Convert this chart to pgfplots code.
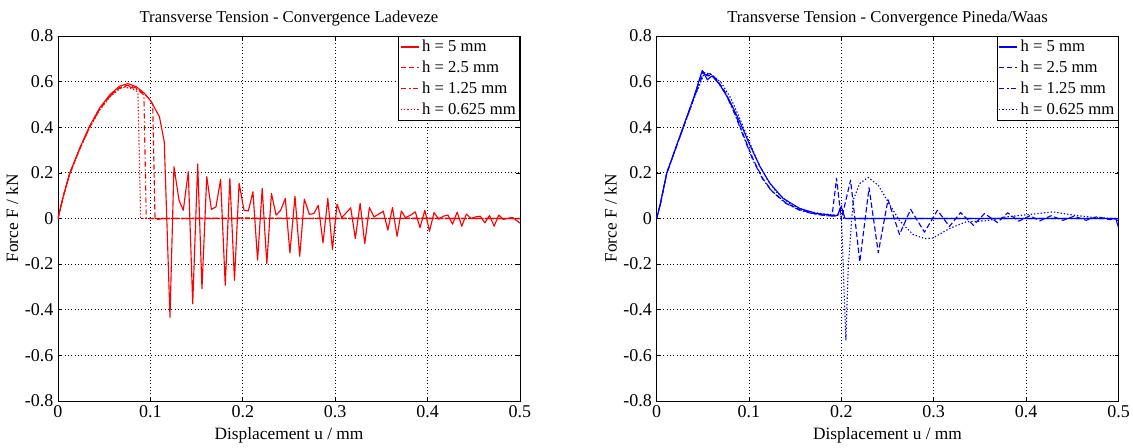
\documentclass[border=0pt]{standalone}
\usepackage{fontspec}
\setmainfont{Liberation Serif}
\usepackage{pgfplots}
\pgfplotsset{compat=1.18}

\tikzset{
  dsh/.style={dash pattern=on 4pt off 2pt},
  dshdot/.style={dash pattern=on 4pt off 2pt on 1pt off 2pt},
  dts/.style={dash pattern=on 1pt off 1.5pt},
}

\pgfplotsset{
  convax/.style={
    scale only axis,
    width=346.5pt, height=273.75pt,
    xmin=0, xmax=0.5, ymin=-0.8, ymax=0.8,
    xtick={0,0.1,...,0.5}, ytick={-0.8,-0.6,...,0.8},
    /pgf/number format/assume math mode=true,
    /pgf/number format/fixed,
    /pgf/number format/precision=1,
    tick label style={font=\fontsize{13.5}{15}\selectfont},
    label style={font=\fontsize{13}{15}\selectfont},
    ylabel style={yshift=-2pt},
    title style={font=\fontsize{12.5}{14}\selectfont, yshift=-2pt},
    xlabel={Displacement u / mm},
    ylabel={Force F / kN},
    axis line style={black, line width=0.7pt},
    tick align=inside, major tick length=3pt,
    tick style={black, line width=0.5pt},
    grid=major,
    major grid style={black, line width=0.55pt, dash pattern=on 0.7pt off 1.8pt},
    legend style={at={(1,1)}, anchor=north east,
      inner xsep=1pt, inner ysep=1pt,
      font=\fontsize{12.5}{14}\selectfont, row sep=1.5pt,
      cells={anchor=west}},
    legend image post style={xscale=0.8},
    every axis plot/.append style={line width=0.85pt, line join=round},
  },
}

\begin{document}
\begin{tikzpicture}
\useasboundingbox (-43.5pt,-35.25pt) rectangle (806.25pt,300.75pt);

% ---------- Ladeveze ----------
\begin{axis}[convax, at={(0pt,0pt)}, anchor=south west,
  title={Transverse Tension - Convergence Ladeveze}]
\addplot[red] coordinates {
 (0,0) (0.0055,0.095) (0.0127,0.198) (0.0235,0.308) (0.034,0.403) (0.045,0.484)
 (0.056,0.542) (0.0666,0.580) (0.0756,0.591) (0.0845,0.578) (0.0935,0.549)
 (0.1007,0.513) (0.1097,0.447) (0.115,0.337) (0.1212,-0.433)
 (0.1255,0.227) (0.131,0.080) (0.1356,0.036) (0.141,0.205) (0.1458,-0.374)
 (0.1512,0.239) (0.1558,-0.308) (0.161,0.183) (0.166,0.040) (0.171,0.051)
 (0.176,0.171) (0.181,-0.293) (0.186,0.176) (0.191,-0.271) (0.196,0.154)
 (0.2013,0.036) (0.206,0.033) (0.211,0.117) (0.216,-0.183) (0.221,0.132)
 (0.226,-0.198) (0.231,0.110) (0.236,0.015) (0.241,0.036) (0.246,0.088)
 (0.251,-0.151) (0.2565,0.098) (0.2616,-0.166) (0.2666,0.085) (0.272,0.018)
 (0.277,0.022) (0.2817,0.058) (0.2868,-0.107) (0.292,0.088) (0.297,-0.136)
 (0.302,0.063) (0.307,0.004) (0.312,0.025) (0.3168,0.047) (0.3218,-0.088)
 (0.327,0.066) (0.332,-0.110) (0.337,0.048) (0.342,0.007) (0.347,0.019)
 (0.352,0.032) (0.357,-0.051) (0.362,0.048) (0.367,-0.078) (0.3716,0.033)
 (0.376,0.003) (0.3817,0.015) (0.3867,0.029) (0.3918,-0.040) (0.397,0.036)
 (0.402,-0.056) (0.407,0.026) (0.412,-0.003) (0.417,0.010) (0.422,0.015)
 (0.427,-0.025) (0.432,0.028) (0.437,-0.034) (0.442,0.019) (0.447,0.000)
 (0.452,0.007) (0.457,0.010) (0.462,-0.019) (0.467,0.013) (0.472,-0.034)
 (0.477,0.015) (0.482,-0.004) (0.487,0.001) (0.492,0.004) (0.497,-0.011)
 (0.5,-0.02)
};
\addlegendentry{h = 5 mm}
\addplot[red, dsh] coordinates {
 (0,0) (0.0055,0.095) (0.0127,0.197) (0.0235,0.306) (0.034,0.400) (0.045,0.480)
 (0.056,0.537) (0.0666,0.574) (0.0756,0.584) (0.0845,0.572) (0.0935,0.545)
 (0.1,0.52) (0.1025,0.50) (0.105,0.0) (0.108,-0.004) (0.114,0.0)
 (0.2,0.002) (0.3,0.0) (0.4,0.001) (0.5,0.0)
};
\addlegendentry{h = 2.5 mm}
\addplot[red, dshdot] coordinates {
 (0,0) (0.0055,0.094) (0.0127,0.196) (0.0235,0.305) (0.034,0.398) (0.045,0.478)
 (0.056,0.535) (0.0666,0.572) (0.0756,0.580) (0.0845,0.567) (0.09,0.552)
 (0.093,0.540) (0.0955,0.0) (0.2,0.0) (0.3,0.001) (0.4,0.0) (0.5,0.0)
};
\addlegendentry{h = 1.25 mm}
\addplot[red, dts] coordinates {
 (0,0) (0.0055,0.093) (0.0127,0.195) (0.0235,0.303) (0.034,0.396) (0.045,0.475)
 (0.056,0.532) (0.0666,0.568) (0.072,0.575) (0.08,0.570) (0.085,0.558)
 (0.0865,0.550) (0.0895,0.0) (0.2,0.0) (0.3,0.0) (0.4,0.0) (0.5,0.0)
};
\addlegendentry{h = 0.625 mm}
\end{axis}

% ---------- Pineda/Waas ----------
\begin{axis}[convax, at={(448.9pt,0pt)}, anchor=south west,
  title={Transverse Tension - Convergence Pineda/Waas}]
\addplot[blue] coordinates {
 (0,0) (0.0038,0.058) (0.011,0.198) (0.02,0.30) (0.029,0.403) (0.04,0.527)
 (0.0495,0.649) (0.055,0.608) (0.060,0.625) (0.0686,0.586) (0.0795,0.513)
 (0.090,0.425) (0.101,0.322) (0.112,0.227) (0.1227,0.154) (0.137,0.088)
 (0.155,0.044) (0.173,0.022) (0.189,0.015) (0.1955,0.012) (0.200,0.051)
 (0.204,0.0) (0.3,0.0) (0.4,0.0) (0.497,0.0) (0.5,-0.04)
};
\addlegendentry{h = 5 mm}
\addplot[blue, dsh] coordinates {
 (0,0) (0.0038,0.058) (0.011,0.198) (0.02,0.30) (0.029,0.400) (0.04,0.525)
 (0.050,0.645) (0.053,0.630) (0.058,0.635) (0.065,0.610) (0.075,0.550)
 (0.085,0.460) (0.095,0.355) (0.105,0.255) (0.115,0.175) (0.125,0.120)
 (0.14,0.068) (0.155,0.038) (0.17,0.022) (0.185,0.012) (0.19,0.012)
 (0.1948,0.176) (0.200,-0.005) (0.21,0.168) (0.22,-0.19) (0.23,0.135)
 (0.24,-0.15) (0.2505,0.082) (0.263,-0.07) (0.275,0.04) (0.29,-0.06)
 (0.304,0.036) (0.317,-0.035) (0.329,0.026) (0.343,-0.03) (0.355,0.022)
 (0.369,-0.018) (0.38,0.025) (0.392,-0.012) (0.404,0.012) (0.415,-0.01)
 (0.427,0.012) (0.44,-0.008) (0.452,0.01) (0.465,-0.008) (0.477,0.008)
 (0.49,-0.005) (0.5,0.0)
};
\addlegendentry{h = 2.5 mm}
\addplot[blue, dshdot] coordinates {
 (0,0) (0.0038,0.057) (0.011,0.197) (0.02,0.30) (0.029,0.400) (0.04,0.522)
 (0.051,0.640) (0.055,0.625) (0.06,0.628) (0.065,0.605) (0.075,0.545)
 (0.085,0.455) (0.095,0.350) (0.105,0.250) (0.115,0.172) (0.125,0.118)
 (0.14,0.066) (0.155,0.036) (0.17,0.020) (0.185,0.012) (0.196,0.010)
 (0.2,0.06) (0.203,0.0) (0.3,0.0) (0.4,0.0) (0.5,0.0)
};
\addlegendentry{h = 1.25 mm}
\addplot[blue, dts] coordinates {
 (0,0) (0.0038,0.056) (0.011,0.196) (0.02,0.30) (0.029,0.398) (0.04,0.520)
 (0.052,0.640) (0.06,0.630) (0.07,0.595) (0.08,0.530) (0.09,0.440)
 (0.1,0.340) (0.11,0.245) (0.12,0.170) (0.13,0.115) (0.145,0.062)
 (0.16,0.035) (0.18,0.020) (0.195,0.015) (0.2,0.02) (0.2049,-0.535)
 (0.2075,-0.21) (0.2128,0.08) (0.22,0.154) (0.229,0.18) (0.24,0.146)
 (0.2524,0.06) (0.263,-0.01) (0.2776,-0.07) (0.29,-0.088) (0.299,-0.086)
 (0.317,-0.044) (0.335,-0.015) (0.357,-0.01) (0.3786,0.007) (0.407,0.019)
 (0.429,0.029) (0.4506,0.015) (0.472,0.005) (0.494,0.0) (0.5,-0.01)
};
\addlegendentry{h = 0.625 mm}
\end{axis}
\end{tikzpicture}
\end{document}
